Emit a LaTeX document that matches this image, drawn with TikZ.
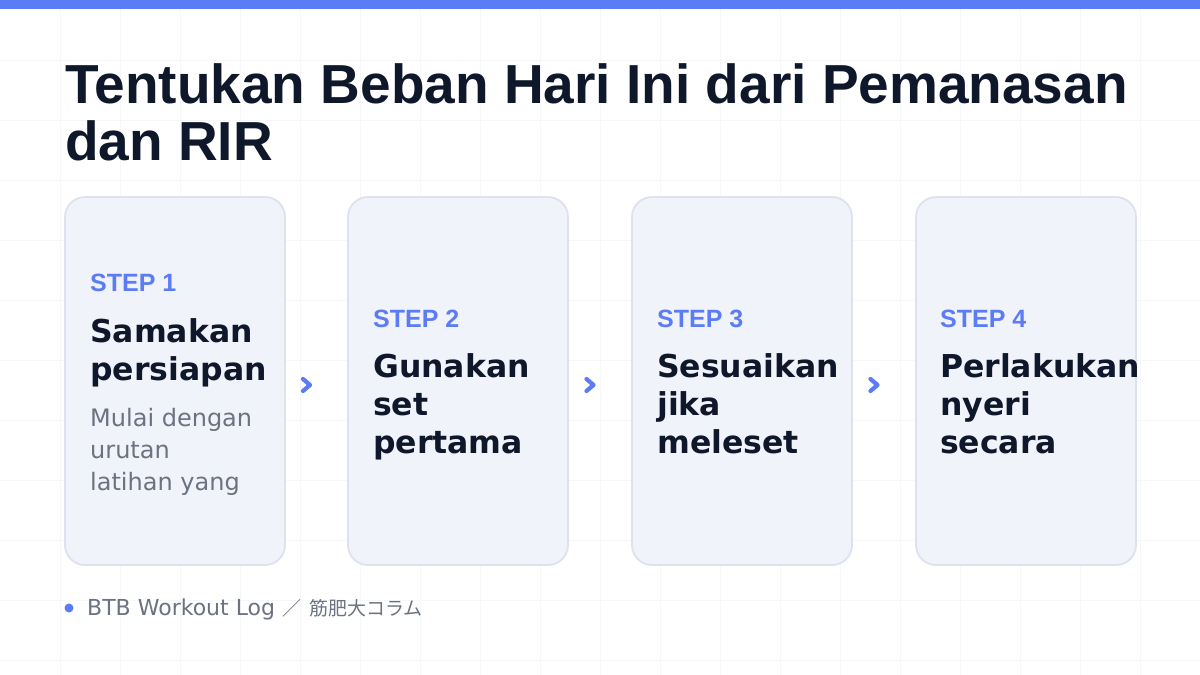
\documentclass[tikz,border=0pt]{standalone}
\usepackage{fontspec}
\setmainfont{Liberation Sans}
\newfontfamily\wide{DejaVu Sans}
\newfontfamily\cjk{Noto Sans CJK JP}
\usetikzlibrary{positioning,calc}
\definecolor{accent}{HTML}{5B7CF5}
\definecolor{ink}{HTML}{0F172A}
\definecolor{muted}{HTML}{6B7280}
\definecolor{cardfill}{HTML}{F1F3FA}
\definecolor{cardline}{HTML}{DEE2EE}
\definecolor{gridline}{HTML}{F6F7F9}
\tikzset{
  card/.style={rectangle, rounded corners=20pt, draw=cardline, line width=1.8pt,
    fill=cardfill, minimum width=220pt, minimum height=368pt, inner sep=0pt},
  steplabel/.style={anchor=base west, inner sep=0pt, text=accent,
    font=\fontsize{25}{28}\selectfont\bfseries},
  headline/.style={anchor=base west, inner sep=0pt, text=ink,
    font=\wide\fontsize{31.5}{38}\selectfont\bfseries},
  note/.style={anchor=base west, inner sep=0pt, text=muted,
    font=\wide\fontsize{24}{28}\selectfont},
  chevron/.style={draw=accent, line width=4.2pt, line cap=round, line join=round}
}
\begin{document}
\begin{tikzpicture}[x=1pt,y=-1pt]
        \useasboundingbox (0,0) rectangle (1200,675);
        \fill[white] (0,0) rectangle (1200,675);

        % Grid
        \foreach \x in {60,120,...,1140}
          \draw[gridline, line width=0.8pt] (\x,0) -- (\x,675);
        \foreach \y in {60,120,...,660}
          \draw[gridline, line width=0.8pt] (0,\y) -- (1200,\y);

        % Top bar
        \fill[accent] (0,0) rectangle (1200,9);

        % Title
        \node at (65,103) [anchor=base west, inner sep=0pt, text=ink,
          font=\fontsize{55}{57}\selectfont\bfseries] (title1) {Tentukan Beban Hari Ini dari Pemanasan};
        \node at (65,160) [anchor=base west, inner sep=0pt, text=ink,
          font=\fontsize{55}{57}\selectfont\bfseries] (title2) {dan RIR};

        % Cards
        \foreach \i/\x in {1/65,2/348,3/632,4/916}
          \node at (\x+110,381) [card] (card\i) {};

        % Card 1
        \node at (90,291) [steplabel] (step1) {STEP 1};
        \node at (90,342) [headline] (head1a) {Samakan};
        \node at (90,380) [headline] (head1b) {persiapan};
        \node at (90,426) [note] (note1a) {Mulai dengan};
        \node at (90,458) [note] (note1b) {urutan};
        \node at (90,490) [note] (note1c) {latihan yang};

        % Card 2
        \node at (373,327) [steplabel] (step2) {STEP 2};
        \node at (373,377) [headline] (head2a) {Gunakan};
        \node at (373,415) [headline] (head2b) {set};
        \node at (373,453) [headline] (head2c) {pertama};

        % Card 3
        \node at (657,327) [steplabel] (step3) {STEP 3};
        \node at (657,377) [headline] (head3a) {Sesuaikan};
        \node at (657,415) [headline] (head3b) {jika};
        \node at (657,453) [headline] (head3c) {meleset};

        % Card 4
        \node at (940,327) [steplabel] (step4) {STEP 4};
        \node at (940,377) [headline] (head4a) {Perlakukan};
        \node at (940,415) [headline] (head4b) {nyeri};
        \node at (940,453) [headline] (head4c) {secara};

        % Chevrons between cards
        \foreach \a/\b in {1/2,2/3,3/4}
          \draw[chevron] ($(card\a.east)!0.5!(card\b.west)+(-13.5,-2)$) -- ++(7,6) -- ++(-7,6);

        % Footer
        \fill[accent] (69,608) circle (4.5pt);
        \node at (87,615) [anchor=base west, inner sep=0pt, text=muted,
          font=\wide\fontsize{22}{24}\selectfont] (footer) {BTB Workout Log {\cjk\fontsize{19}{24}\selectfont ／\hspace{4pt} 筋肥大コラム}};
\end{tikzpicture}
\end{document}
